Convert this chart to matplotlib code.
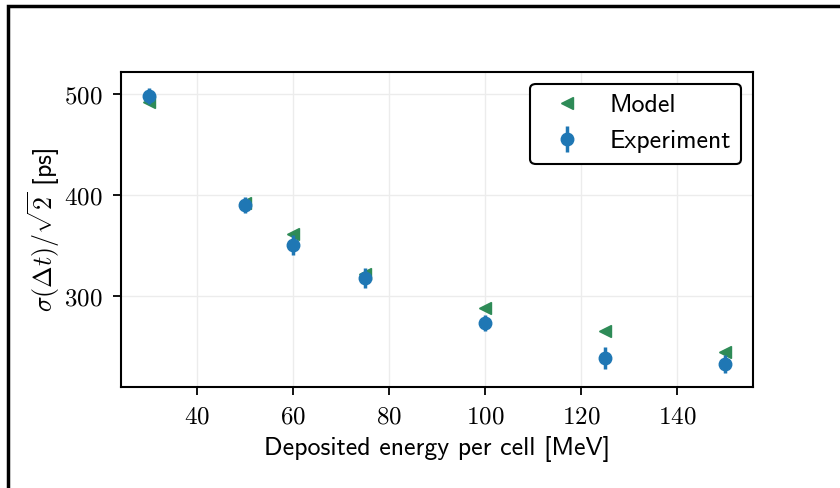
import matplotlib
matplotlib.use("Agg")
import matplotlib.pyplot as plt
from matplotlib.patches import Rectangle
from matplotlib.ticker import FuncFormatter

energy = [30, 50, 60, 75, 100, 125, 150]
experiment = [498, 390, 351, 318, 273, 239, 233]
experiment_err = [8, 8, 10, 10, 8, 11, 9]
model = [492, 392, 362, 322, 288, 265, 245]

plt.rcParams['mathtext.fontset'] = 'cm'
plt.rcParams['font.family'] = ['cmss10', 'DejaVu Sans']
plt.rcParams['axes.unicode_minus'] = False

fig = plt.figure(figsize=(8.4, 4.88), dpi=100)
ax = fig.add_axes([121/840, 1-387/488, (753-121)/840, (387-72)/488])

ax.plot(energy, model, linestyle='none', marker='<', color='#2e8b57', markersize=9, label='Model', zorder=3)
ax.errorbar(energy, experiment, yerr=experiment_err, fmt='o', color='#1f77b4', markersize=9,
            elinewidth=2.5, capsize=0, label='Experiment', zorder=4)

ax.set_xlim(24.2, 155.8)
ax.set_ylim(210, 522)
ax.set_xticks([40, 60, 80, 100, 120, 140])
ax.set_yticks([300, 400, 500])
fmt = FuncFormatter(lambda v, p: r'$%d$' % v)
ax.xaxis.set_major_formatter(fmt)
ax.yaxis.set_major_formatter(fmt)
ax.tick_params(axis='both', labelsize=18, length=6, width=1.3, direction='out', color='black', pad=7)
ax.grid(True, color='#ececec', linewidth=1.0)
ax.set_axisbelow(True)
for s in ax.spines.values():
    s.set_linewidth(1.5)
    s.set_color('black')

ax.set_xlabel('Deposited energy per cell [MeV]', fontsize=18.6, labelpad=6)
ax.set_ylabel(r'$\sigma(\Delta t)/\sqrt{2}$ [ps]', fontsize=18.6, labelpad=2)

leg = ax.legend(loc='upper right', fontsize=18.6, frameon=True, fancybox=True,
                framealpha=1, edgecolor='black', handlelength=2.0, handletextpad=0.65,
                borderpad=0.4, labelspacing=0.5, borderaxespad=0,
                bbox_to_anchor=((741-121)/632, 1 - 12/315))
leg.get_frame().set_linewidth(1.5)

rect = Rectangle((8/840, -0.5), 2.0, 1 - 6/488 + 0.5, transform=fig.transFigure,
                 fill=False, edgecolor='black', linewidth=2.5, clip_on=False)
fig.patches.append(rect)

fig.savefig('out.png', dpi=100)
